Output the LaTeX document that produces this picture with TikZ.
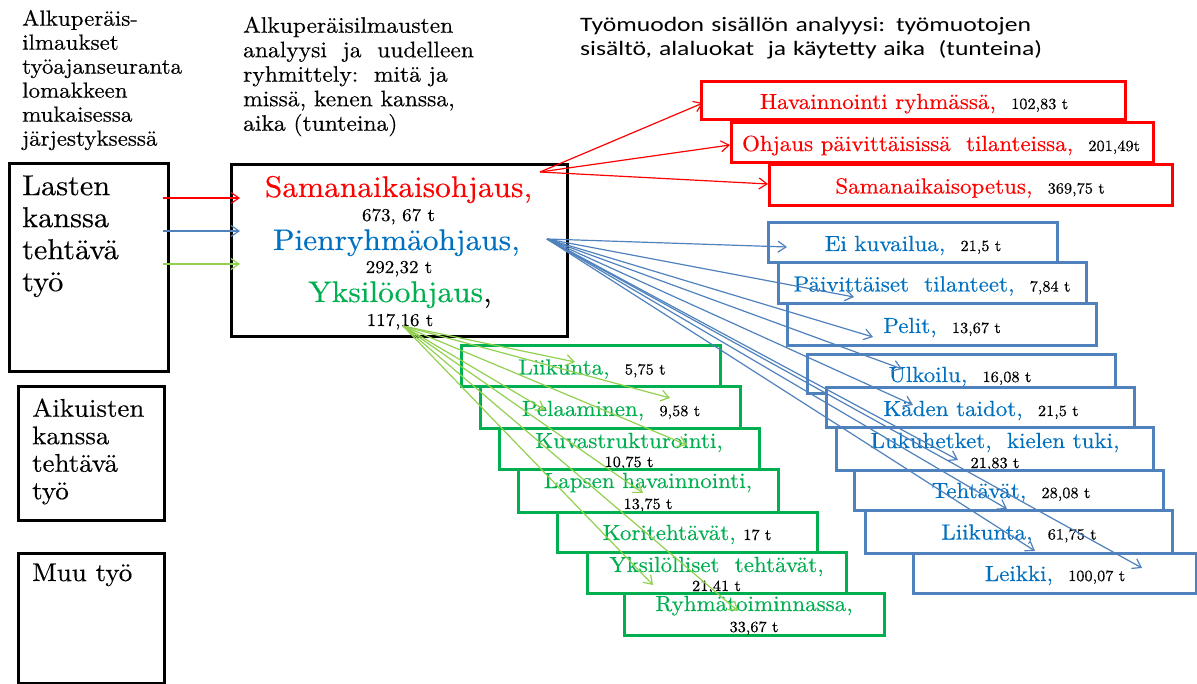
\documentclass[tikz,border=0pt]{standalone}
\usepackage{fontspec}
\setmainfont{lmroman10-regular.otf}[FakeStretch=1.05,FakeBold=0.35]
\newfontfamily\hdrfont{Carlito}[FakeStretch=1.25]
\usetikzlibrary{arrows.meta}
\definecolor{rd}{RGB}{255,0,0}
\definecolor{bltx}{RGB}{0,112,192}
\definecolor{blln}{RGB}{79,129,189}
\definecolor{grtx}{RGB}{0,176,80}
\definecolor{grln}{RGB}{146,208,80}
\newcommand\nmb[1]{{\fontsize{15.5}{17}\selectfont\color{black}#1}}
\newcommand\nmc[1]{{\fontsize{18.1}{19}\selectfont\color{black}#1}}
\tikzset{
  blkbox/.style={draw=black, line width=3pt, rectangle, inner sep=0pt},
  colbox/.style={draw=#1, line width=3pt, fill=white, rectangle, inner sep=0pt},
  btxt/.style={anchor=base, inner sep=0pt, text=#1, font=\fontsize{21.9}{23}\selectfont},
  ctxt/.style={anchor=base, inner sep=0pt, text=#1, font=\fontsize{29.9}{31}\selectfont},
  hdr/.style={anchor=north west, inner sep=0pt, align=left},
  arr/.style={draw=#1, line width=1.2pt, -{Straight Barb[length=8pt,width=11pt,line width=1.2pt]}}
}
\begin{document}
\begin{tikzpicture}[x=1pt,y=-1pt]
\useasboundingbox (0,0) rectangle (1197,684);

% headers
\node[hdr, font=\fontsize{21.9}{24}\selectfont] (h1) at (22,9.8)
  {Alkuperäis-\\ilmaukset\\työajanseuranta\\lomakkeen\\mukaisessa\\järjestyksessä};
\node[hdr, font=\fontsize{22.4}{24.5}\selectfont] (h2) at (243,16.5)
  {Alkuperäisilmausten\\analyysi\ \ ja\ \ uudelleen\\ryhmittely:\ \ mitä ja\\missä, kenen kanssa,\\aika (tunteina)};
\node[anchor=base west, inner sep=0pt, font=\hdrfont\fontsize{20.5}{22}\selectfont] (h3a) at (580,32)
  {\makebox[451pt][s]{Työmuodon sisällön analyysi: työmuotojen}};
\node[anchor=base west, inner sep=0pt, font=\hdrfont\fontsize{20.5}{22}\selectfont] (h3b) at (580,56)
  {\makebox[462pt][s]{sisältö, alaluokat\ \ ja käytetty aika\ \ (tunteina)}};

% left boxes
\node[blkbox, minimum width=159pt, minimum height=208pt] (lasten) at (88.5,268) {};
\node[hdr, font=\fontsize{28.8}{32}\selectfont] (lastent) at (22,175.3) {Lasten\\kanssa\\tehtävä\\työ};
\node[blkbox, minimum width=146pt, minimum height=133pt] (aik) at (91,453.5) {};
\node[hdr, font=\fontsize{25.6}{27.5}\selectfont] (aikt) at (32,398.2) {Aikuisten\\kanssa\\tehtävä\\työ};
\node[blkbox, minimum width=146pt, minimum height=130pt] (muu) at (91,618) {};
\node[anchor=base west, inner sep=0pt, font=\fontsize{25.6}{27.5}\selectfont] (muut) at (32,581) {Muu työ};

% center box
\node[blkbox, minimum width=336pt, minimum height=172pt] (cen) at (399,251) {};
\node[ctxt=rd] (c1) at (398.5,197) {Samanaikaisohjaus,};
\node[anchor=base, inner sep=0pt] (c2) at (398.5,221) {\nmc{673, 67 t}};
\node[ctxt=bltx] (c3) at (396.5,250) {Pienryhmäohjaus,};
\node[anchor=base, inner sep=0pt] (c4) at (399,273) {\nmc{292,32 t}};
\node[ctxt=grtx] (c5) at (400,302) {Yksilöohjaus{\color{black},}};
\node[anchor=base, inner sep=0pt] (c6) at (400,326) {\nmc{117,16 t}};

% red boxes
\node[colbox=rd, minimum width=424pt, minimum height=38pt] (r1) at (913,101) {};
\node[btxt=rd] (r1t) at (914,109) {Havainnointi ryhmässä,\ \ \nmb{102,83 t}};
\node[colbox=rd, minimum width=422pt, minimum height=40pt] (r2) at (942,143) {};
\node[btxt=rd] (r2t) at (941,151) {Ohjaus päivittäisissä\ \ tilanteissa,\ \ \nmb{201,49t}};
\node[colbox=rd, minimum width=403pt, minimum height=41pt] (r3) at (970.5,185.5) {};
\node[btxt=rd] (r3t) at (970,193.5) {Samanaikaisopetus,\ \ \nmb{369,75 t}};

% blue boxes
\node[colbox=blln, minimum width=289pt, minimum height=40pt] (b1) at (912.5,243) {};
\node[btxt=bltx] (b1t) at (913,251) {Ei kuvailua,\ \ \nmb{21,5 t}};
\node[colbox=blln, minimum width=308pt, minimum height=41pt] (b2) at (932,283.5) {};
\node[btxt=bltx] (b2t) at (932,291.5) {Päivittäiset\ \ tilanteet,\ \ \nmb{7,84 t}};
\node[colbox=blln, minimum width=309pt, minimum height=42pt] (b3) at (941.5,325) {};
\node[btxt=bltx] (b3t) at (942,333) {Pelit,\ \ \nmb{13,67 t}};
\node[colbox=blln, minimum width=308pt, minimum height=39pt] (b4) at (961,374.5) {};
\node[btxt=bltx] (b4t) at (960,382) {Ulkoilu,\ \ \nmb{16,08 t}};
\node[colbox=blln, minimum width=308pt, minimum height=40pt] (b5) at (980,408) {};
\node[btxt=bltx] (b5t) at (981,416) {Käden taidot,\ \ \nmb{21,5 t}};
\node[colbox=blln, minimum width=317pt, minimum height=42pt] (b6) at (994.5,449) {};
\node[btxt=bltx] (b6t) at (995,448) {Lukuhetket,\ \ kielen tuki,};
\node[anchor=base, inner sep=0pt] (b6n) at (995,468) {\nmb{21,83 t}};
\node[colbox=blln, minimum width=309pt, minimum height=40pt] (b7) at (1008.5,490) {};
\node[btxt=bltx] (b7t) at (1011,498) {Tehtävät,\ \ \nmb{28,08 t}};
\node[colbox=blln, minimum width=307pt, minimum height=43pt] (b8) at (1018.5,531.5) {};
\node[btxt=bltx] (b8t) at (1019,539.5) {Liikunta,\ \ \nmb{61,75 t}};
\node[colbox=blln, minimum width=283pt, minimum height=40pt] (b9) at (1054.5,573) {};
\node[btxt=bltx] (b9t) at (1055,581) {Leikki,\ \ \nmb{100,07 t}};

% green boxes
\node[colbox=grtx, minimum width=259pt, minimum height=41pt] (g1) at (590.5,366.5) {};
\node[btxt=grtx] (g1t) at (592,374.5) {Liikunta,\ \ \nmb{5,75 t}};
\node[colbox=grtx, minimum width=260pt, minimum height=42pt] (g2) at (610,408) {};
\node[btxt=grtx] (g2t) at (611,416) {Pelaaminen,\ \ \nmb{9,58 t}};
\node[colbox=grtx, minimum width=260pt, minimum height=40pt] (g3) at (629,449) {};
\node[btxt=grtx] (g3t) at (629,448) {Kuvastrukturointi,};
\node[anchor=base, inner sep=0pt] (g3n) at (629,467) {\nmb{10,75 t}};
\node[colbox=grtx, minimum width=260pt, minimum height=43pt] (g4) at (648,490.5) {};
\node[btxt=grtx] (g4t) at (648,488) {Lapsen havainnointi,};
\node[anchor=base, inner sep=0pt] (g4n) at (648,509) {\nmb{13,75 t}};
\node[colbox=grtx, minimum width=260pt, minimum height=40pt] (g5) at (687,532) {};
\node[btxt=grtx] (g5t) at (687,540) {Koritehtävät,\ \nmb{17 t}};
\node[colbox=grtx, minimum width=259pt, minimum height=41pt] (g6) at (716.5,572.5) {};
\node[btxt=grtx] (g6t) at (716.5,572) {Yksilölliset\ \ tehtävät,};
\node[anchor=base, inner sep=0pt] (g6n) at (716.5,591) {\nmb{21,41 t}};
\node[colbox=grtx, minimum width=260pt, minimum height=42pt] (g7) at (754,614) {};
\node[btxt=grtx] (g7t) at (754,611) {Ryhmätoiminnassa,};
\node[anchor=base, inner sep=0pt] (g7n) at (754,632) {\nmb{33,67 t}};

% arrows from left box to centre box
\coordinate (la1) at (163,198); \coordinate (ca1) at (240,198);
\coordinate (la2) at (163,231); \coordinate (ca2) at (240,231);
\coordinate (la3) at (163,264); \coordinate (ca3) at (240,264);
\draw[arr=rd] (la1) -- (ca1);
\draw[arr=blln] (la2) -- (ca2);
\draw[arr=grln] (la3) -- (ca3);

% red arrows
\coordinate (ro) at (540,172);
\coordinate (rt1) at (703,103);
\coordinate (rt2) at (730,145);
\coordinate (rt3) at (768,184);
\foreach \t in {rt1,rt2,rt3} \draw[arr=rd] (ro) -- (\t);

% blue arrows
\coordinate (bo) at (547,239);
\coordinate (bt1) at (787,247);
\coordinate (bt2) at (854,297);
\coordinate (bt3) at (873,337);
\coordinate (bt4) at (902,369);
\coordinate (bt5) at (913,405);
\coordinate (bt6) at (958,460);
\coordinate (bt7) at (1007,509);
\coordinate (bt8) at (1035,551);
\coordinate (bt9) at (1142,568);
\foreach \t in {bt1,bt2,bt3,bt4,bt5,bt6,bt7,bt8,bt9} \draw[arr=blln] (bo) -- (\t);

% green arrows
\coordinate (go) at (403,326);
\coordinate (gt1) at (575,362);
\coordinate (gt2) at (545,410);
\coordinate (gt3) at (670,398);
\coordinate (gt4) at (687,445);
\coordinate (gt5) at (643,493);
\coordinate (gt6) at (653,585);
\coordinate (gt7) at (738,611);
\foreach \t in {gt1,gt2,gt3,gt4,gt5,gt6,gt7} \draw[arr=grln] (go) -- (\t);
\end{tikzpicture}
\end{document}
